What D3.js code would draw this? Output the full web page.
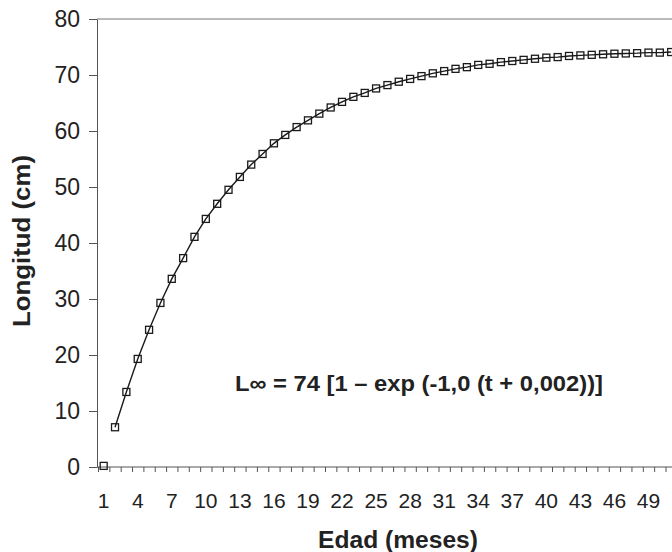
<!DOCTYPE html>
<html>
<head>
<meta charset="utf-8">
<script src="https://cdn.jsdelivr.net/npm/d3@7"></script>
<style>
  body { margin: 0; background: #fff; }
  svg { display: block; font-family: "Liberation Sans", Arial, sans-serif; }
  .axis path, .axis line { stroke: #555; }
  .axis text { fill: #222; }
</style>
</head>
<body>
<svg id="chart" width="672" height="552"></svg>
<script>
// Edad (meses), categorías 1..51
const ages = d3.range(1, 52);
// Longitud (cm)
const lengths = [
  0.2, 7.1, 13.4, 19.3, 24.5, 29.3, 33.6, 37.3, 41.1, 44.3,
  47.0, 49.5, 51.8, 54.0, 55.9, 57.8, 59.3, 60.7, 61.9, 63.1,
  64.2, 65.2, 66.1, 66.8, 67.6, 68.2, 68.8, 69.3, 69.8, 70.3,
  70.7, 71.1, 71.4, 71.8, 72.0, 72.3, 72.5, 72.7, 72.9, 73.1,
  73.2, 73.4, 73.5, 73.6, 73.7, 73.8, 73.85, 73.9, 74.0, 74.0,
  74.1
];
const yTicks = [0, 10, 20, 30, 40, 50, 60, 70, 80];
const xLabels = d3.range(1, 50, 3); // 1, 4, 7 ... 49
const equation = "L\u221E = 74 [1 \u2013 exp (-1,0 (t + 0,002))]";

const svg = d3.select("#chart");

const plotLeft = 97, plotTop = 19, plotBottom = 467;
const step = 11.35;

// Scales
const x = d3.scaleBand()
    .domain(ages)
    .range([plotLeft + 1, plotLeft + 1 + ages.length * step])
    .padding(0);

const xEdge = d3.scaleLinear()
    .domain([0, ages.length])
    .range(x.range());

const y = d3.scaleLinear()
    .domain([0, 80])
    .range([plotBottom, plotTop]);

const cx = d => x(d) + x.bandwidth() / 2;

// Top border of the plot area
svg.append("line")
    .attr("x1", plotLeft).attr("x2", 672)
    .attr("y1", y(80)).attr("y2", y(80))
    .attr("stroke", "#777").attr("stroke-width", 1);

// Y axis
const yAxis = svg.append("g")
    .attr("class", "axis")
    .attr("transform", `translate(${plotLeft},0)`)
    .call(d3.axisLeft(y).tickValues(yTicks).tickSize(8).tickPadding(9).tickSizeOuter(0));
yAxis.selectAll("text").style("font-size", "23px");

// X axis: tick marks between categories
const xTicks = svg.append("g")
    .attr("class", "axis")
    .attr("transform", `translate(0,${plotBottom})`)
    .call(d3.axisBottom(xEdge).tickValues(d3.range(0, ages.length + 1)).tickSize(5).tickFormat(() => ""));
xTicks.select(".domain").attr("d", `M${plotLeft},0H672`);
xTicks.selectAll("text").remove();

// X axis labels every 3 months
const xAxis = svg.append("g")
    .attr("class", "axis")
    .attr("transform", `translate(0,${plotBottom})`)
    .call(d3.axisBottom(x).tickValues(xLabels).tickSize(0).tickPadding(26));
xAxis.select(".domain").remove();
xAxis.selectAll("text").style("font-size", "21px");

// Curve (starts at the second month)
const line = d3.line()
    .x((d, i) => cx(ages[i + 1]))
    .y(d => y(d));

svg.append("path")
    .datum(lengths.slice(1))
    .attr("fill", "none")
    .attr("stroke", "#1a1a1a")
    .attr("stroke-width", 1.4)
    .attr("d", line);

// Square markers
svg.selectAll(".pt")
    .data(lengths)
    .enter()
    .append("rect")
    .attr("class", "pt")
    .attr("x", (d, i) => cx(ages[i]) - 3.5)
    .attr("y", d => y(d) - 3.5)
    .attr("width", 7)
    .attr("height", 7)
    .attr("fill", "none")
    .attr("stroke", "#1a1a1a")
    .attr("stroke-width", 1.3);

// Equation
svg.append("text")
    .attr("x", 235)
    .attr("y", 391)
    .attr("textLength", 368)
    .attr("lengthAdjust", "spacingAndGlyphs")
    .style("font-size", "22px")
    .style("font-weight", "bold")
    .attr("fill", "#222")
    .text(equation);

// Axis titles
svg.append("text")
    .attr("transform", "translate(30,241) rotate(-90)")
    .attr("text-anchor", "middle")
    .attr("textLength", 172)
    .attr("lengthAdjust", "spacingAndGlyphs")
    .style("font-size", "23px")
    .style("font-weight", "bold")
    .attr("fill", "#222")
    .text("Longitud (cm)");

svg.append("text")
    .attr("x", 398)
    .attr("y", 548)
    .attr("text-anchor", "middle")
    .attr("textLength", 160)
    .attr("lengthAdjust", "spacingAndGlyphs")
    .style("font-size", "23px")
    .style("font-weight", "bold")
    .attr("fill", "#222")
    .text("Edad (meses)");
</script>
</body>
</html>
